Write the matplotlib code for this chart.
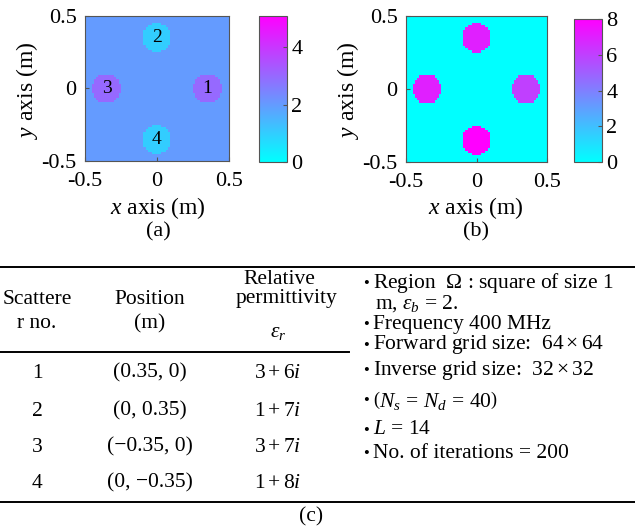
import numpy as np
import matplotlib
matplotlib.use('Agg')
import matplotlib.pyplot as plt
from matplotlib.lines import Line2D

plt.rcParams['font.family'] = ['Liberation Serif', 'DejaVu Serif']
plt.rcParams['mathtext.fontset'] = 'custom'
plt.rcParams['mathtext.rm'] = 'Liberation Serif'
plt.rcParams['mathtext.it'] = 'Liberation Serif:italic'
plt.rcParams['mathtext.bf'] = 'Liberation Serif:bold'
plt.rcParams['axes.unicode_minus'] = False

# ---------------- data ----------------
scatterer_ids = [1, 2, 3, 4]
pos_x = [0.35, 0.0, -0.35, 0.0]
pos_y = [0.0, 0.35, 0.0, -0.35]
eps_real = [3, 1, 3, 1]
eps_imag = [6, 7, 7, 8]
background_real = 2
background_imag = 0
radius = 0.1
grid_n = 64
domain = [-0.5, 0.5]

cbar_a_ticks = [0, 2, 4]
cbar_b_ticks = [0, 2, 4, 6, 8]
cbar_a_range = [0, 5.1]
cbar_b_range = [0, 8]
axis_ticks = [-0.5, 0, 0.5]
axis_ticklabels = ['-0.5', '0', '0.5']

pos_labels = ['(0.35, 0)', '(0, 0.35)', '(\u22120.35, 0)', '(0, \u22120.35)']
perm_labels = [r'$3+6i$', r'$1+7i$', r'$3+7i$', r'$1+8i$']
bullets = [r'Region  $\Omega$ : square of size 1',
           None,
           'Frequency 400 MHz',
           r'Forward grid size:  $64\times64$',
           r'Inverse grid size:  $32\times32$',
           r'$\left(N_s\,=\,N_d\,=\,40\right)$',
           r'$L$ = 14',
           'No. of iterations = 200']

# ---------------- build maps ----------------
c = domain[0] + (np.arange(grid_n) + 0.5) * (domain[1] - domain[0]) / grid_n
X, Y = np.meshgrid(c, c)
re_map = np.full(X.shape, float(background_real))
im_map = np.full(X.shape, float(background_imag))
for px_, py_, er, ei in zip(pos_x, pos_y, eps_real, eps_imag):
    m = (X - px_) ** 2 + (Y - py_) ** 2 <= radius ** 2 + 1e-12
    re_map[m] = er
    im_map[m] = ei

W, H = 635, 527
fig = plt.figure(figsize=(W / 100, H / 100), dpi=100)

TICK_FS = 16
LABEL_FS = 17
TABLE_FS = 15.5


def box(x0, y0, x1, y1):
    return [x0 / W, 1 - y1 / H, (x1 - x0) / W, (y1 - y0) / H]


def ftext(x, y, s, **kw):
    kw.setdefault('fontsize', TABLE_FS)
    kw.setdefault('ha', 'center')
    kw.setdefault('va', 'center')
    fig.text(x / W, 1 - y / H, s, **kw)


def hline(y, x0, x1, lw=1.4):
    fig.add_artist(Line2D([x0 / W, x1 / W], [1 - y / H, 1 - y / H],
                          color='black', lw=lw, transform=fig.transFigure))


spine_col = '#555555'


def style_axes(ax):
    ax.set_xlim(domain)
    ax.set_ylim(domain)
    ax.set_xticks(axis_ticks)
    ax.set_yticks(axis_ticks)
    ax.set_xticklabels(axis_ticklabels)
    ax.set_yticklabels(axis_ticklabels)
    ax.tick_params(direction='in', length=3, labelsize=TICK_FS, color=spine_col)
    ax.tick_params(axis='x', pad=8)
    ax.tick_params(axis='y', pad=6)
    for s in ax.spines.values():
        s.set_color(spine_col)
        s.set_linewidth(0.8)


def style_cbar(cb, ticks):
    cb.set_ticks(ticks)
    cb.ax.tick_params(direction='in', length=3, labelsize=TICK_FS, color=spine_col, pad=3)
    cb.outline.set_edgecolor(spine_col)
    cb.outline.set_linewidth(0.8)


# panel (a)
axa = fig.add_axes(box(85, 16, 229, 161))
ima = axa.imshow(re_map, extent=[domain[0], domain[1], domain[0], domain[1]],
                 origin='lower', cmap='cool', vmin=cbar_a_range[0], vmax=cbar_a_range[1],
                 aspect='auto', interpolation='nearest')
style_axes(axa)
for sid, px_, py_ in zip(scatterer_ids, pos_x, pos_y):
    axa.text(px_, py_, str(sid), ha='center', va='center', fontsize=14, color='black')
caxa = fig.add_axes(box(259, 16, 287, 162))
cba = fig.colorbar(ima, cax=caxa)
style_cbar(cba, cbar_a_ticks)
ftext(158, 208, r'$x$ axis (m)', fontsize=LABEL_FS)
ftext(27, 90, r'$y$ axis (m)', fontsize=LABEL_FS, rotation=90)
ftext(158, 232, '(a)', fontsize=16)

# panel (b)
axb = fig.add_axes(box(406, 16, 547, 162))
imb = axb.imshow(im_map, extent=[domain[0], domain[1], domain[0], domain[1]],
                 origin='lower', cmap='cool', vmin=cbar_b_range[0], vmax=cbar_b_range[1],
                 aspect='auto', interpolation='nearest')
style_axes(axb)
caxb = fig.add_axes(box(574, 19, 602, 162))
cbb = fig.colorbar(imb, cax=caxb)
style_cbar(cbb, cbar_b_ticks)
ftext(476, 208, r'$x$ axis (m)', fontsize=LABEL_FS)
ftext(348, 90, r'$y$ axis (m)', fontsize=LABEL_FS, rotation=90)
ftext(476, 232, '(b)', fontsize=16)

# ---------------- table (c) ----------------
hline(267, 0, 635)
hline(352, 0, 349)
hline(502, 0, 635)

ftext(37, 300, 'Scattere')
ftext(37, 324, 'r no.')
ftext(150, 300, 'Position')
ftext(150, 324, '(m)')
ftext(279, 280, 'Relative')
ftext(286, 298, 'permittivity')
ftext(278, 333, r'$\varepsilon_r$')

row_y = [373, 411, 447, 483]
for ry, sid, pl, pm in zip(row_y, scatterer_ids, pos_labels, perm_labels):
    ftext(37, ry, str(sid))
    ftext(150, ry, pl)
    ftext(278, ry, pm)

bullet_y = [283, 304, 324, 345, 370, 400, 430, 453]
for by, bt in zip(bullet_y, bullets):
    if bt is None:
        ftext(375, by, r'm, $\varepsilon_b$ = 2.', ha='left')
        continue
    ftext(363, by + 1, '\u2022', ha='left', fontsize=12)
    ftext(373, by, bt, ha='left')

ftext(311, 517, '(c)')

fig.savefig('out.png', dpi=100)
